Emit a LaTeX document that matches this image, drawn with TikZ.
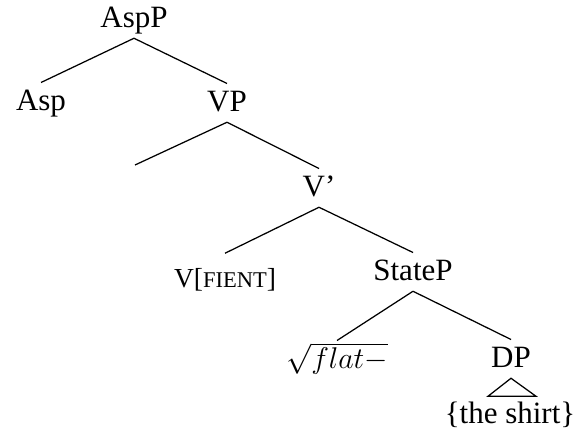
\documentclass[tikz,border=0pt]{standalone}
\usepackage{fontspec}
\setmainfont{Liberation Serif}
\usepackage{tikz}

\begin{document}
\begin{tikzpicture}[%
      x=0.4pt, y=-0.4pt,
      every node/.style={font=\fontsize{12.4}{14}\selectfont},
      cat/.style={anchor=base, text height=9pt, text depth=2.5pt, inner sep=1.8pt},
      branch/.style={color=black, line width=0.5pt},
      ]
      \useasboundingbox (0,0) rectangle (585,433);

      % categories, placed by their baselines
      \node [cat] (aspp)   at (134,27)  {AspP};
      \node [cat] (asp)    at (41,110)  {Asp};
      \node [cat] (vp)     at (227,111) {VP};
      \coordinate (vpspec) at (135,165);
      \node [cat] (vbar)   at (319,196) {V'};
      \node [cat, text height=11.5pt] (vfient) at (225,287)
            {\fontsize{11}{13}\selectfont V[{\fontsize{9}{11}\selectfont FIENT}]};
      \node [cat] (statep) at (413,280) {StateP};
      \node [cat] (root)   at (337,368) {$\sqrt{flat-}$};
      \node [cat] (dp)     at (511,367) {DP};
      \node [anchor=base] (shirt) at (510,423) {\{the shirt\}};

      % branches
      \draw [branch] (aspp.south) -- (asp.north);
      \draw [branch] (aspp.south) -- (vp.north);
      \draw [branch] (vp.south) -- (vpspec);
      \draw [branch] (vp.south) -- (vbar.north);
      \draw [branch] (vbar.south) -- (vfient.north);
      \draw [branch] (vbar.south) -- (statep.north);
      \draw [branch] (statep.south) -- (root.north);
      \draw [branch] (statep.south) -- (dp.north);

      % roof over the DP
      \draw [branch] (dp.south) -- ++(-23,18) -- ++(48,0) -- cycle;
\end{tikzpicture}
\end{document}
